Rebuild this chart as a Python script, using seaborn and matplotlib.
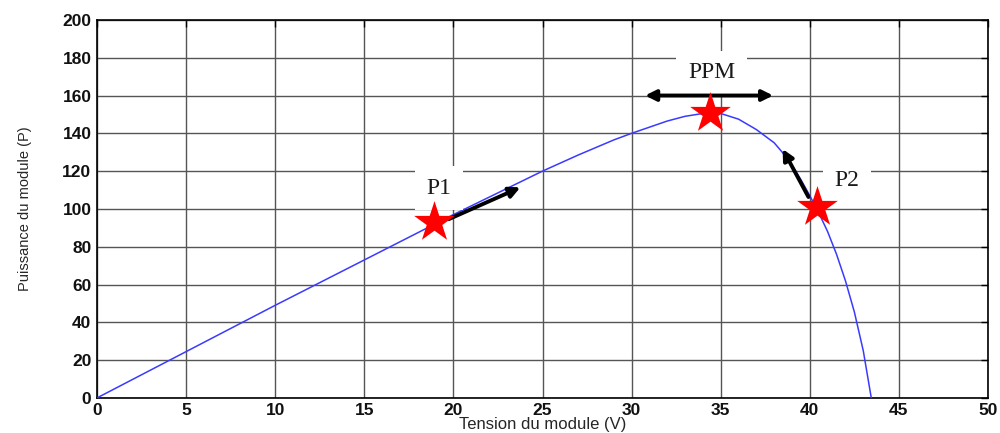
import matplotlib
matplotlib.use("Agg")
import matplotlib.pyplot as plt
import seaborn as sns
import pandas as pd

voltage = [0, 5, 10, 15, 20, 25, 27, 29, 30, 32, 33, 34, 34.5, 35, 36, 37, 38, 38.5, 39, 39.5,
           40, 40.5, 41, 41.5, 42, 42.5, 43, 43.45]
power = [0, 24.5, 49, 73, 97, 120, 128.5, 136.5, 140, 146.5, 149, 150.5, 150.8, 150.5, 147.5, 142, 135,
         129.5, 123, 115.5, 107, 98, 88, 76, 62, 45.5, 25, 0]

pt_names = ["P1", "PPM", "P2"]
pt_v = [18.9, 34.4, 40.4]
pt_p = [93, 151, 101]
label_v = [19.2, 34.5, 42.1]
label_p = [111, 172, 115]

sns.set_style("white")
plt.rcParams['font.family'] = ['Liberation Sans', 'DejaVu Sans']

fig = plt.figure(figsize=(10, 4.33), dpi=100)
ax = fig.add_axes([0.097, 0.081, 0.891, 0.873])

df = pd.DataFrame({"V": voltage, "P": power})
sns.lineplot(data=df, x="V", y="P", ax=ax, color="#3a3aff", lw=1.1, sort=False, zorder=3)

ax.set_xlim(0, 50)
ax.set_ylim(0, 200)
ax.set_xticks(range(0, 51, 5))
ax.set_yticks(range(0, 201, 20))
ax.grid(True, color="#555555", lw=1.0, ls="-")
ax.set_axisbelow(True)
for s in ax.spines.values():
    s.set_color("black")
    s.set_linewidth(1.2)
    s.set_visible(True)
ax.tick_params(direction="in", length=5, width=1, top=True, right=True,
               labelsize=12.5, colors="black", pad=4)
for lab in ax.get_xticklabels() + ax.get_yticklabels():
    lab.set_fontweight("bold")
    lab.set_color("#111111")
ax.set_xlabel("Tension du module (V)", fontsize=12, labelpad=-1)
ax.set_ylabel("Puissance du module (P)", fontsize=10.5, labelpad=22)

arrow_kw = dict(arrowstyle="-|>", color="black", lw=2.8, mutation_scale=16)
ax.annotate("", xy=(23.9, 112), xytext=(19.6, 94), arrowprops=arrow_kw, zorder=5)
ax.annotate("", xy=(38.4, 133), xytext=(40.0, 105), arrowprops=arrow_kw, zorder=5)
ax.annotate("", xy=(38.1, 160), xytext=(30.6, 160),
            arrowprops=dict(arrowstyle="<|-|>", color="black", lw=2.8, mutation_scale=16), zorder=5)

pts = pd.DataFrame({"V": pt_v, "P": pt_p, "name": pt_names})
sns.scatterplot(data=pts, x="V", y="P", ax=ax, marker="*", s=950, color="red",
                edgecolor="red", linewidth=0, zorder=6, legend=False)

for n, x, y in zip(pt_names, label_v, label_p):
    ax.text(x, y, n, ha="center", va="center", fontsize=17, family="Liberation Serif",
            color="#1a1a1a", zorder=4,
            bbox=dict(boxstyle="square,pad=0.5", fc="white", ec="none"))

fig.savefig("out.png", dpi=100)
